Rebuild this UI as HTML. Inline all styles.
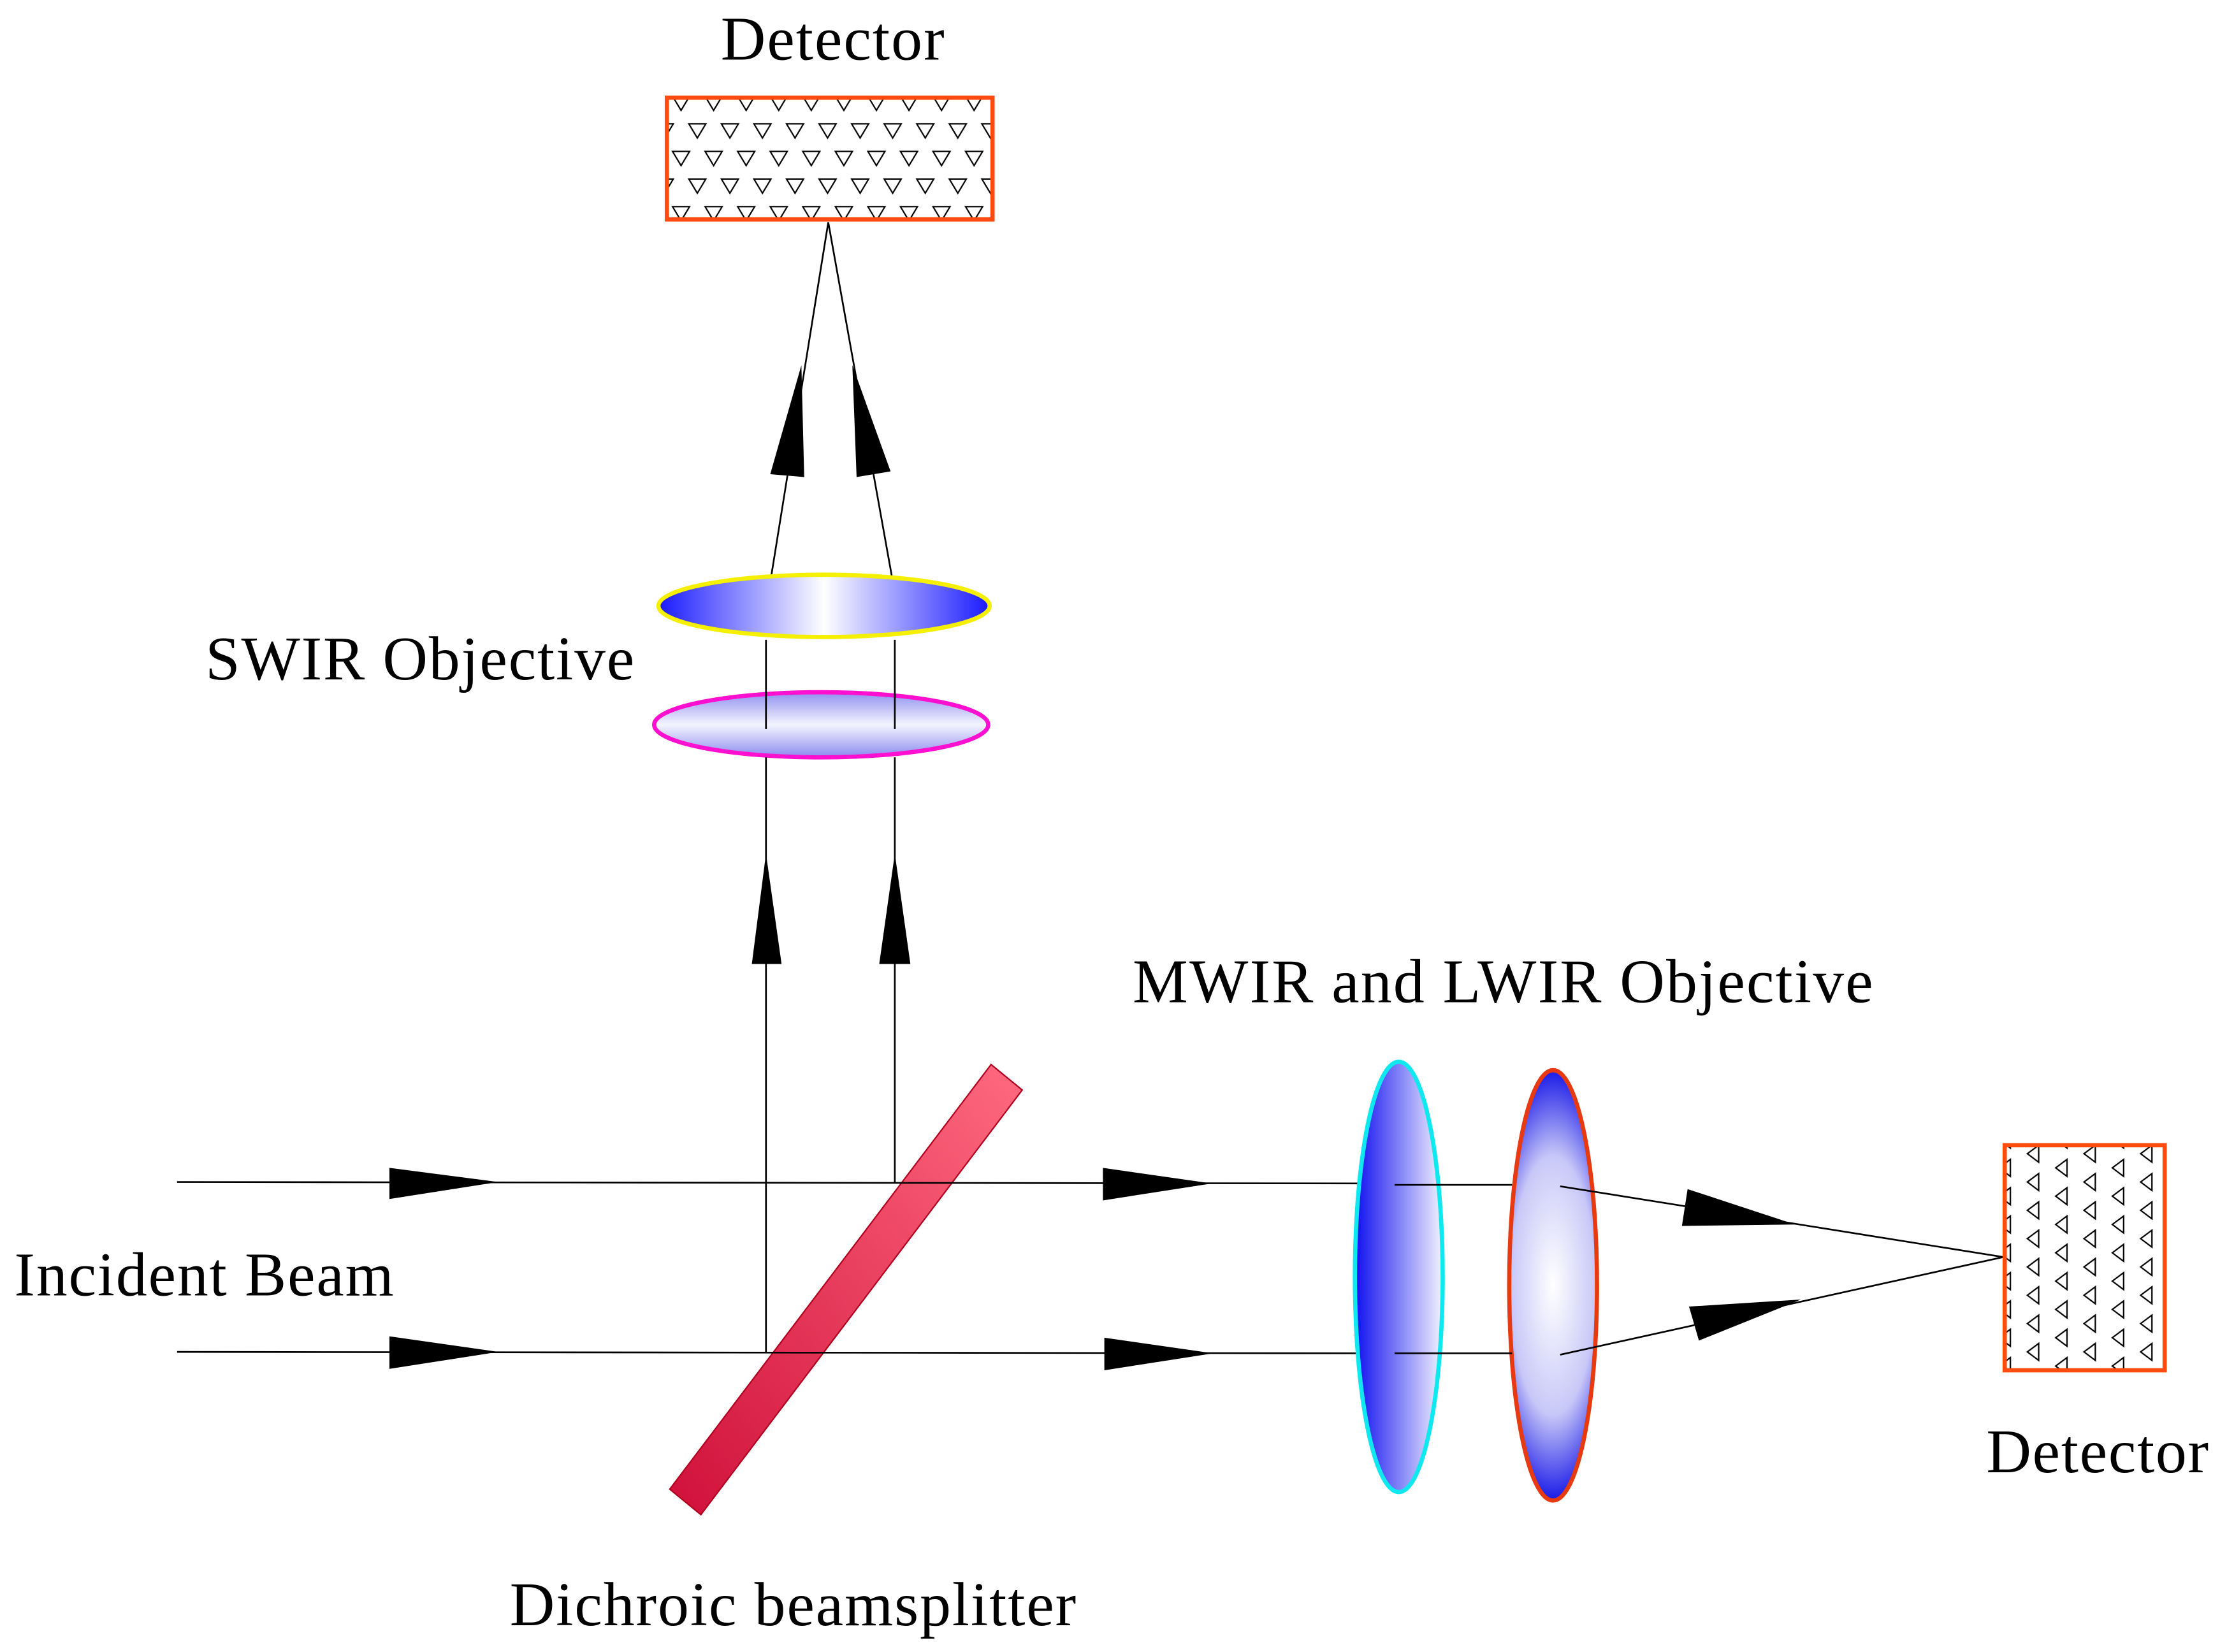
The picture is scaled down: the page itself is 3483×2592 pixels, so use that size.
<!DOCTYPE html>
<html><head><meta charset="utf-8"><style>
html,body{margin:0;padding:0;background:#fff;}
svg{display:block;}
text{font-family:"Liberation Serif",serif;fill:#000;}
</style></head><body>
<svg width="3483" height="2592" viewBox="0 0 1568 1167" xmlns="http://www.w3.org/2000/svg">
<defs>
<pattern id="tri" x="466" y="64" width="23" height="39" patternUnits="userSpaceOnUse">
<polygon points="9,4 21,4 15,14" fill="none" stroke="#000" stroke-width="1"/>
<polygon points="-2.5,23.5 9.5,23.5 3.5,33.5" fill="none" stroke="#000" stroke-width="1"/>
<polygon points="20.5,23.5 32.5,23.5 26.5,33.5" fill="none" stroke="#000" stroke-width="1"/>
</pattern>
<pattern id="tri2" x="1412" y="806" width="40" height="20" patternUnits="userSpaceOnUse">
<polygon points="28,3 28,15 20,9" fill="none" stroke="#000" stroke-width="1"/>
<polygon points="8,-7 8,5 0,-1" fill="none" stroke="#000" stroke-width="1"/>
<polygon points="8,13 8,25 0,19" fill="none" stroke="#000" stroke-width="1"/>
<polygon points="48,-7 48,5 40,-1" fill="none" stroke="#000" stroke-width="1"/>
<polygon points="48,13 48,25 40,19" fill="none" stroke="#000" stroke-width="1"/>
</pattern>
<linearGradient id="hg" x1="0" y1="0" x2="1" y2="0">
<stop offset="0" stop-color="#1a1aff"/><stop offset="0.15" stop-color="#6060ff"/><stop offset="0.5" stop-color="#ffffff"/><stop offset="0.85" stop-color="#6060ff"/><stop offset="1" stop-color="#1a1aff"/>
</linearGradient>
<linearGradient id="hg2" x1="0" y1="0" x2="0" y2="1">
<stop offset="0" stop-color="#8f8ff0"/><stop offset="0.5" stop-color="#f4f4ff"/><stop offset="1" stop-color="#8a8af0"/>
</linearGradient>
<linearGradient id="cg" x1="0" y1="0" x2="1" y2="0">
<stop offset="0" stop-color="#1010f0"/><stop offset="1" stop-color="#f2f2ff"/>
</linearGradient>
<radialGradient id="rg" cx="0.5" cy="0.5" r="0.5" gradientTransform="translate(0.5 0.5) scale(1.6 1) translate(-0.5 -0.5)">
<stop offset="0" stop-color="#ffffff"/><stop offset="0.6" stop-color="#c8c8f8"/><stop offset="1" stop-color="#1a1ae8"/>
</radialGradient>
<linearGradient id="bs" x1="0" y1="1" x2="1" y2="0">
<stop offset="0" stop-color="#d0103a"/><stop offset="1" stop-color="#ff6a80"/>
</linearGradient>
</defs>

<text x="588" y="42" font-size="44" text-anchor="middle" textLength="158">Detector</text>
<rect x="471" y="69" width="230" height="86" fill="url(#tri)" stroke="#ff4a10" stroke-width="3"/>

<line x1="585" y1="157" x2="541" y2="430" stroke="#000" stroke-width="1.2"/>
<line x1="585" y1="157" x2="634" y2="430" stroke="#000" stroke-width="1.2"/>
<polygon points="566,258 544,335 568,337" fill="#000"/>
<polygon points="602,258 605,337 629,333" fill="#000"/>

<ellipse cx="582" cy="428" rx="117" ry="22" fill="url(#hg)" stroke="#f5f000" stroke-width="3"/>
<ellipse cx="580" cy="512" rx="118" ry="23" fill="url(#hg2)" stroke="#ff10d0" stroke-width="3"/>
<line x1="541" y1="452" x2="541" y2="515" stroke="#000" stroke-width="1.2"/>
<line x1="632" y1="452" x2="632" y2="515" stroke="#000" stroke-width="1.2"/>
<line x1="541" y1="535" x2="541" y2="955" stroke="#000" stroke-width="1.2"/>
<line x1="632" y1="535" x2="632" y2="836" stroke="#000" stroke-width="1.2"/>
<polygon points="541,603 531,681 552,681" fill="#000"/>
<polygon points="632,603 621,681 643,681" fill="#000"/>
<text x="145" y="480" font-size="44" textLength="303">SWIR Objective</text>

<polygon points="473,1052 495,1070 722,770 700,752" fill="url(#bs)" stroke="#b00020" stroke-width="1"/>

<line x1="125" y1="835" x2="960" y2="836" stroke="#000" stroke-width="1.2"/>
<line x1="125" y1="955" x2="960" y2="956" stroke="#000" stroke-width="1.2"/>
<polygon points="275,825 352,835 275,847" fill="#000"/>
<polygon points="275,944 352,955 275,967" fill="#000"/>
<polygon points="779,825 856,836 779,848" fill="#000"/>
<polygon points="780,945 857,956 780,968" fill="#000"/>

<ellipse cx="988" cy="902" rx="31" ry="152" fill="url(#cg)" stroke="#10e8f0" stroke-width="3"/>
<ellipse cx="1097" cy="908" rx="31" ry="152" fill="url(#rg)" stroke="#e83a10" stroke-width="3"/>
<line x1="985" y1="837" x2="1068" y2="837" stroke="#000" stroke-width="1.2"/>
<line x1="985" y1="956" x2="1068" y2="956" stroke="#000" stroke-width="1.2"/>
<line x1="1102" y1="838" x2="1415" y2="888" stroke="#000" stroke-width="1.2"/>
<line x1="1102" y1="957" x2="1415" y2="888" stroke="#000" stroke-width="1.2"/>
<polygon points="1192,840 1268,865 1188,866" fill="#000"/>
<polygon points="1193,923 1272,918 1200,947" fill="#000"/>

<rect x="1416" y="809" width="113" height="159" fill="url(#tri2)" stroke="#ff4a10" stroke-width="3"/>

<text x="800" y="708" font-size="44" textLength="523">MWIR and LWIR Objective</text>
<text x="10" y="915" font-size="44" textLength="268">Incident Beam</text>
<text x="1403" y="1040" font-size="44" textLength="157">Detector</text>
<text x="360" y="1148" font-size="44" textLength="400">Dichroic beamsplitter</text>
</svg>
</body></html>
